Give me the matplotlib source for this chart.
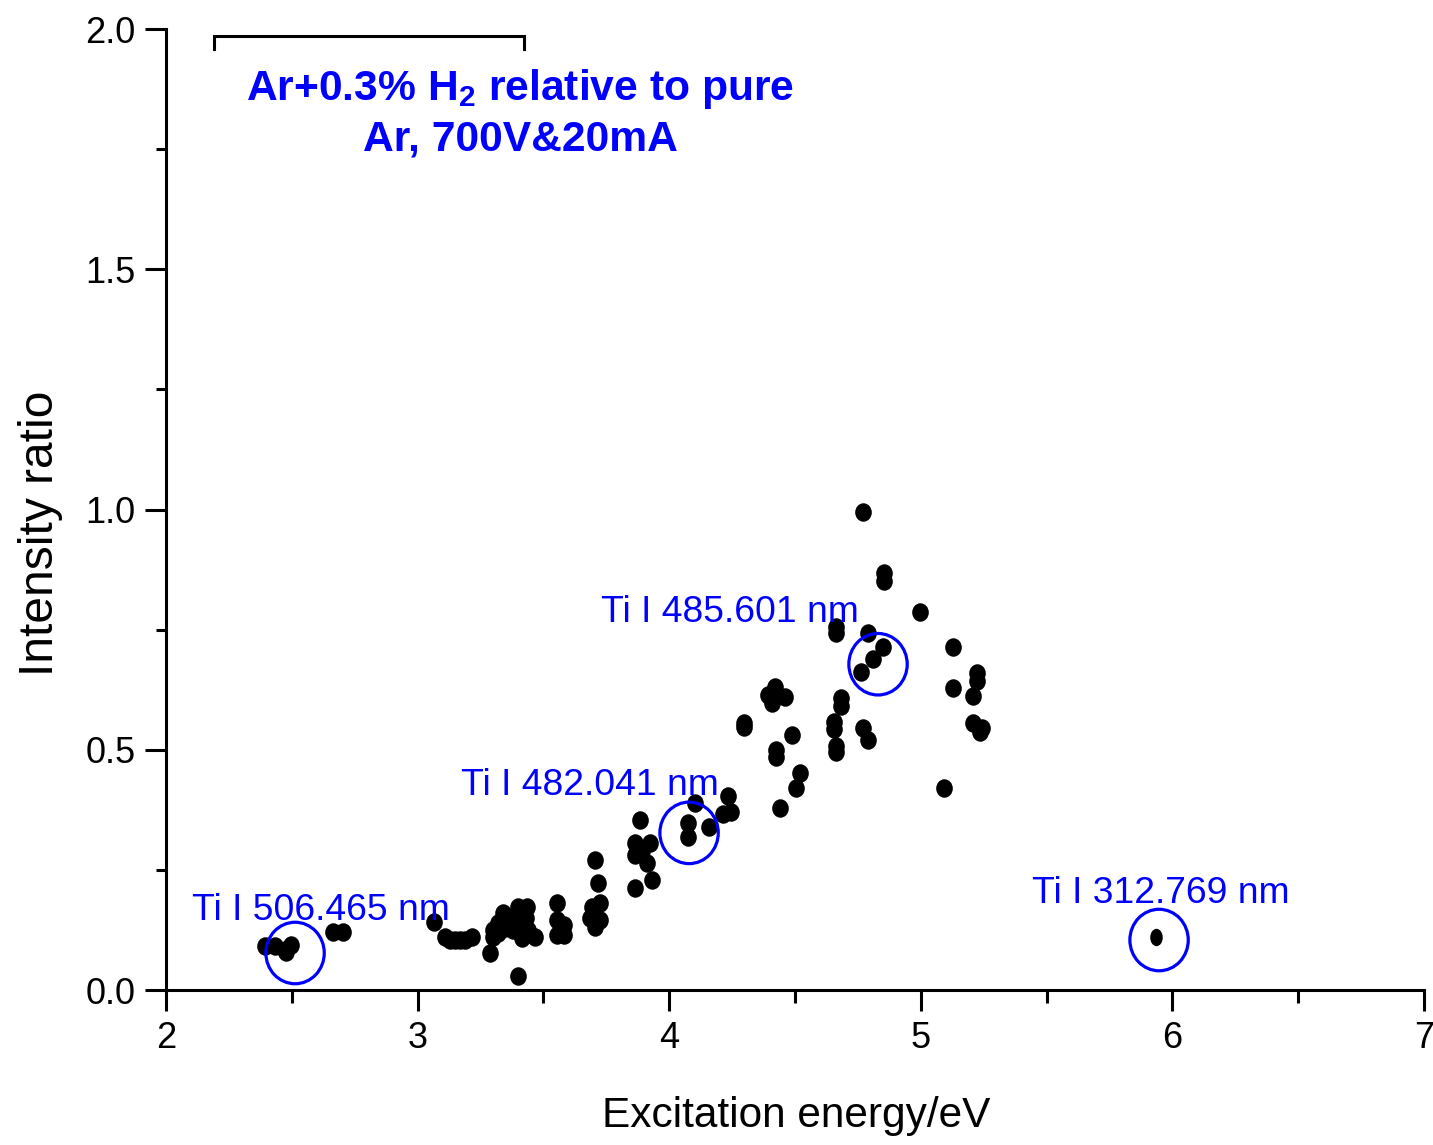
import matplotlib
matplotlib.use("Agg")
import matplotlib.pyplot as plt
from matplotlib.patches import Ellipse
from matplotlib.path import Path
from matplotlib.ticker import MultipleLocator, FormatStrFormatter
import numpy as np

plt.rcParams['font.family'] = ['Liberation Sans', 'DejaVu Sans']
plt.rcParams['mathtext.fontset'] = 'custom'
plt.rcParams['mathtext.rm'] = 'Liberation Sans'
plt.rcParams['mathtext.bf'] = 'Liberation Sans:bold'

# ---- data: excitation energy (eV) and intensity ratio ----
energy = [
    2.393, 2.433, 2.473, 2.497, 2.477, 2.664, 2.703,
    3.065, 3.109, 3.129, 3.149, 3.168, 3.188, 3.216,
    3.288, 3.300, 3.300, 3.320, 3.339, 3.347, 3.320, 3.360,
    3.399, 3.435, 3.407, 3.415, 3.380, 3.467, 3.399, 3.430, 3.440,
    3.554, 3.554, 3.554, 3.574, 3.580, 3.580,
    3.705, 3.717, 3.693, 3.725, 3.685, 3.725, 3.705, 3.700,
    3.884, 3.864, 3.924, 3.864, 3.912, 3.932, 3.864, 3.890,
    4.103, 4.075, 4.075, 4.158, 4.232, 4.246, 4.212,
    4.297, 4.297, 4.420, 4.393, 4.460, 4.409, 4.488,
    4.424, 4.424, 4.520, 4.504, 4.440,
    4.663, 4.663, 4.683, 4.683, 4.655, 4.655, 4.663, 4.663,
    4.770, 4.790, 4.850, 4.810, 4.762, 4.770, 4.790,
    4.854, 4.854, 4.997,
    5.092, 5.128, 5.128, 5.223, 5.223, 5.207, 5.207, 5.243, 5.235,
]
ratio = [
    0.092, 0.092, 0.083, 0.094, 0.079, 0.121, 0.121,
    0.142, 0.110, 0.104, 0.104, 0.104, 0.104, 0.110,
    0.077, 0.110, 0.125, 0.139, 0.160, 0.129, 0.118, 0.150,
    0.173, 0.173, 0.139, 0.108, 0.125, 0.110, 0.029, 0.150, 0.125,
    0.181, 0.146, 0.114, 0.131, 0.135, 0.114,
    0.271, 0.223, 0.173, 0.181, 0.150, 0.146, 0.131, 0.160,
    0.354, 0.306, 0.306, 0.281, 0.264, 0.229, 0.212, 0.290,
    0.389, 0.348, 0.318, 0.339, 0.404, 0.370, 0.366,
    0.556, 0.547, 0.631, 0.614, 0.610, 0.597, 0.531,
    0.499, 0.485, 0.452, 0.420, 0.379,
    0.755, 0.743, 0.608, 0.591, 0.558, 0.543, 0.508, 0.495,
    0.995, 0.743, 0.714, 0.689, 0.662, 0.545, 0.520,
    0.868, 0.851, 0.787,
    0.420, 0.714, 0.629, 0.660, 0.643, 0.612, 0.556, 0.545, 0.537,
]

# isolated Ti I 312.769 nm line
single_energy = [5.935]
single_ratio = [0.110]

# highlighted lines: label, circle centre (energy, ratio), label anchor
line_labels = ["Ti I 506.465 nm", "Ti I 482.041 nm", "Ti I 485.601 nm", "Ti I 312.769 nm"]
circle_x = [2.513, 4.079, 4.830, 5.947]
circle_y = [0.077, 0.327, 0.678, 0.104]
label_x = [2.103, 3.172, 3.729, 5.442]
label_y = [0.146, 0.406, 0.766, 0.181]

xticks = [2, 3, 4, 5, 6, 7]
yticks = [0.0, 0.5, 1.0, 1.5, 2.0]

# ---- figure ----
fig = plt.figure(figsize=(14.33, 11.45), dpi=100)
ax = fig.add_axes([0.11584, 0.13537, 0.87788, 0.8393])

blue = '#0000FF'

circ = Path.unit_circle()
oval = Path(circ.vertices * np.array([0.9, 1.0]), circ.codes)
ax.plot(energy, ratio, linestyle='none', marker=oval, markersize=13.3,
        color='black', markeredgewidth=0, zorder=3)

ell = Path(circ.vertices * np.array([0.72, 1.0]), circ.codes)
ax.plot(single_energy, single_ratio, linestyle='none', marker=ell, markersize=12.5,
        color='black', markeredgewidth=0, zorder=3)

for cx, cy in zip(circle_x, circle_y):
    ax.add_patch(Ellipse((cx, cy), width=0.232, height=0.128, fill=False,
                         edgecolor=blue, linewidth=2.3, zorder=4))

for t, lx, ly in zip(line_labels, label_x, label_y):
    ax.text(lx, ly, t, color=blue, fontsize=26.8, ha='left', va='baseline', zorder=5)

# title block and bracket
ax.text(3.407, 1.852, r"Ar+0.3% H$_\mathbf{2}$ relative to pure", color=blue,
        fontsize=30.7, fontweight='bold', ha='center', va='baseline')
ax.text(3.407, 1.748, "Ar, 700V&20mA", color=blue,
        fontsize=30.7, fontweight='bold', ha='center', va='baseline')
ax.plot([2.191, 2.191, 3.423, 3.423], [1.958, 1.985, 1.985, 1.958],
        color='black', linewidth=2.2, solid_joinstyle='miter')

# axes styling
ax.set_xlim(2, 7)
ax.set_ylim(0, 2.0)
ax.set_xticks(xticks)
ax.set_yticks(yticks)
ax.xaxis.set_minor_locator(MultipleLocator(0.5))
ax.yaxis.set_minor_locator(MultipleLocator(0.25))
ax.yaxis.set_major_formatter(FormatStrFormatter('%.1f'))
for side in ['top', 'right']:
    ax.spines[side].set_visible(False)
for side in ['left', 'bottom']:
    ax.spines[side].set_linewidth(2.2)
ax.tick_params(axis='both', which='major', direction='out', length=15, width=2.2,
               labelsize=26, pad=7)
ax.tick_params(axis='x', which='minor', direction='out', length=9, width=2.2)
ax.tick_params(axis='y', which='minor', direction='out', length=7, width=2.2)
for lab in ax.get_xticklabels() + ax.get_yticklabels():
    lab.set_clip_on(False)

fig.text(0.5555, 0.0157, "Excitation energy/eV", fontsize=30.5, ha='center', va='baseline')
fig.text(0.0286, 0.5345, "Intensity ratio", fontsize=34.5, rotation=90, ha='center', va='center')

fig.savefig("out.png", dpi=100)
